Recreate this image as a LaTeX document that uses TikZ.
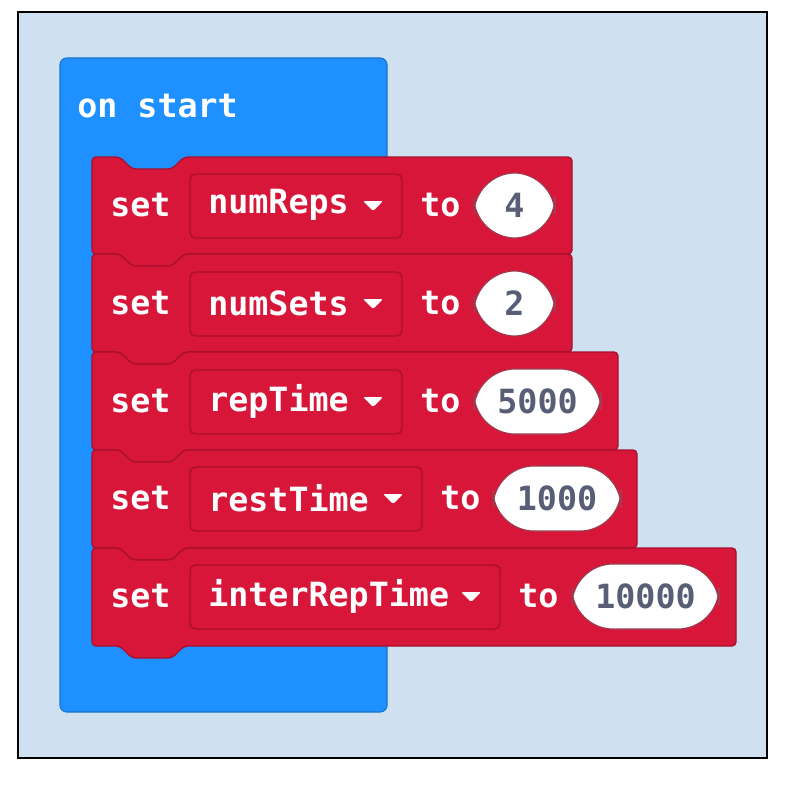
\documentclass[tikz,border=0pt]{standalone}
\usepackage{fontspec}
\setmonofont{DejaVu Sans Mono}
\definecolor{bgc}{RGB}{207,225,241}
\definecolor{blueb}{RGB}{30,144,255}
\definecolor{blueedge}{RGB}{24,115,204}
\definecolor{redb}{RGB}{215,22,58}
\definecolor{rededge}{RGB}{168,16,46}
\definecolor{valtxt}{RGB}{87,94,117}
\tikzset{
 txt/.style={text=white,font=\ttfamily\bfseries\fontsize{25}{30}\selectfont,anchor=west,inner sep=0pt},
 valt/.style={text=valtxt,font=\ttfamily\bfseries\fontsize{25}{30}\selectfont,inner sep=0pt},
 redblock/.style={fill=redb,draw=rededge,line width=1pt,rounded corners=3},
 dropbox/.style={draw=rededge,line width=1pt,rounded corners=4},
 pill/.style={fill=white,draw=rededge!60!gray,line width=0.8pt,rounded corners=31}
}
\newcommand{\blockpath}[3]{% x1, y0, y1
 \path[redblock] (92,#2) -- (120,#2) -- (132,#2+12) -- (172,#2+12) -- (184,#2) -- (#1,#2) -- (#1,#3) -- (184,#3) -- (172,#3+12) -- (132,#3+12) -- (120,#3) -- (92,#3) -- cycle;}
\newcommand{\arrowtri}[2]{\fill[white,rounded corners=1.5] (#1-10,#2-4) -- (#1+10,#2-4) -- (#1,#2+6) -- cycle;}
\begin{document}
\begin{tikzpicture}[x=0.75pt,y=-0.75pt]
\useasboundingbox (0,0) rectangle (798,788);
\draw[fill=bgc,draw=black,line width=1.5pt] (18,12) rectangle (767,758);
\path[fill=blueb,draw=blueedge,line width=0.8pt,rounded corners=5] (60,58) rectangle (387,712);
\node[txt] (hdr) at (77,106) {on start};
\blockpath{572}{157}{254}
\blockpath{572}{254}{352}
\blockpath{618}{352}{450}
\blockpath{637}{450}{548}
\blockpath{736}{548}{646}
% row 1
\node[txt] (s1) at (110,205) {set};
\draw[dropbox] (190,174) rectangle (402,238);
\node[txt] (d1) at (208,205) {numReps};
\arrowtri{373}{205}
\node[txt] (t1) at (420,205) {to};
\draw[pill] (474,173) rectangle (555,238);
\node[valt] (v1) at (514.5,205) {4};
% row 2
\node[txt] (s2) at (110,303) {set};
\draw[dropbox] (190,272) rectangle (402,336);
\node[txt] (d2) at (208,303) {numSets};
\arrowtri{373}{303}
\node[txt] (t2) at (420,303) {to};
\draw[pill] (474,271) rectangle (555,336);
\node[valt] (v2) at (514.5,303) {2};
% row 3
\node[txt] (s3) at (110,401) {set};
\draw[dropbox] (190,370) rectangle (402,434);
\node[txt] (d3) at (208,401) {repTime};
\arrowtri{373}{401}
\node[txt] (t3) at (420,401) {to};
\draw[pill] (474,369) rectangle (601,434);
\node[valt] (v3) at (537.5,401) {5000};
% row 4
\node[txt] (s4) at (110,498) {set};
\draw[dropbox] (190,467) rectangle (422,531);
\node[txt] (d4) at (208,498) {restTime};
\arrowtri{393}{498}
\node[txt] (t4) at (440,498) {to};
\draw[pill] (493,466) rectangle (621,531);
\node[valt] (v4) at (557,498) {1000};
% row 5
\node[txt] (s5) at (110,596) {set};
\draw[dropbox] (190,565) rectangle (500,629);
\node[txt] (d5) at (208,596) {interRepTime};
\arrowtri{471}{596}
\node[txt] (t5) at (518,596) {to};
\draw[pill] (572,564) rectangle (719,629);
\node[valt] (v5) at (645.5,596) {10000};
\end{tikzpicture}
\end{document}
